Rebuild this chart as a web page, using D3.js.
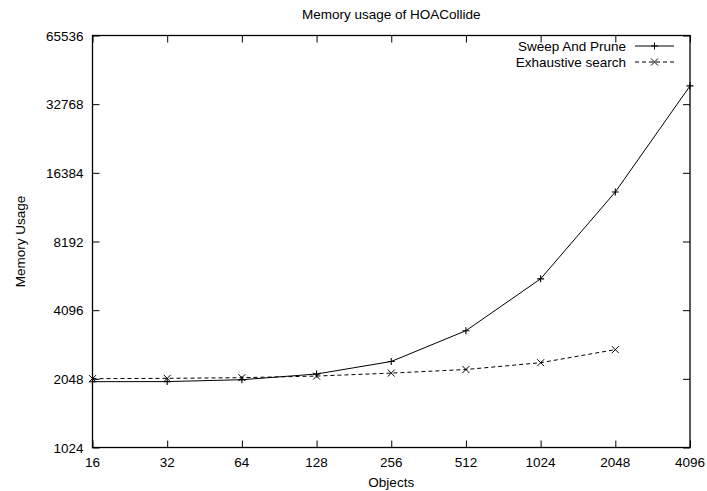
<!DOCTYPE html>
<html>
<head>
<meta charset="utf-8">
<script src="https://cdn.jsdelivr.net/npm/d3@7"></script>
<style>
  body { margin: 0; background: #fff; }
  svg { font-family: "Liberation Sans", Arial, sans-serif; }
</style>
</head>
<body>
<div id="chart"></div>
<script>
const objects = [16, 32, 64, 128, 256, 512, 1024, 2048, 4096];
const sweepAndPrune = [1990, 1992, 2030, 2150, 2440, 3330, 5620, 13500, 39400];
const exhaustive = [2052, 2058, 2072, 2106, 2170, 2250, 2410, 2750];
const yTicks = [1024, 2048, 4096, 8192, 16384, 32768, 65536];

const width = 707;
const height = 491;
const margin = { top: 35.5, right: 17, bottom: 43.5, left: 92.5 };
const fontSize = 13.5;

const svg = d3.select('#chart')
              .append('svg')
              .attr('width', width)
              .attr('height', height);

const xScale = d3.scaleLog().base(2).domain([16, 4096]).range([margin.left, width - margin.right]);
const yScale = d3.scaleLog().base(2).domain([1024, 65536]).range([height - margin.bottom, margin.top]);

const tick = 7;
const fmt = d3.format('d');

// axes, ticks pointing inward like gnuplot
svg.append('g')
   .attr('transform', 'translate(0,' + (height - margin.bottom) + ')')
   .call(d3.axisTop(xScale).tickValues(objects).tickSize(tick).tickFormat(''))
   .call(g => g.select('.domain').remove());
svg.append('g')
   .attr('transform', 'translate(0,' + margin.top + ')')
   .call(d3.axisBottom(xScale).tickValues(objects).tickSize(tick).tickFormat(''))
   .call(g => g.select('.domain').remove());
svg.append('g')
   .attr('transform', 'translate(' + margin.left + ',0)')
   .call(d3.axisRight(yScale).tickValues(yTicks).tickSize(tick).tickFormat(''))
   .call(g => g.select('.domain').remove());
svg.append('g')
   .attr('transform', 'translate(' + (width - margin.right) + ',0)')
   .call(d3.axisLeft(yScale).tickValues(yTicks).tickSize(tick).tickFormat(''))
   .call(g => g.select('.domain').remove());

// tick labels
svg.append('g')
   .selectAll('text')
   .data(objects)
   .enter()
   .append('text')
   .attr('x', d => xScale(d))
   .attr('y', height - margin.bottom + 19)
   .attr('text-anchor', 'middle')
   .attr('font-size', fontSize)
   .text(d => fmt(d));
svg.append('g')
   .selectAll('text')
   .data(yTicks)
   .enter()
   .append('text')
   .attr('x', margin.left - 9)
   .attr('y', d => yScale(d) + 5)
   .attr('text-anchor', 'end')
   .attr('font-size', fontSize)
   .text(d => fmt(d));

// frame
svg.append('rect')
   .attr('x', margin.left)
   .attr('y', margin.top)
   .attr('width', width - margin.left - margin.right)
   .attr('height', height - margin.top - margin.bottom)
   .attr('fill', 'none')
   .attr('stroke', '#000')
   .attr('stroke-width', 1.3);

// titles
svg.append('text')
   .attr('x', (margin.left + width - margin.right) / 2)
   .attr('y', 19)
   .attr('text-anchor', 'middle')
   .attr('font-size', fontSize)
   .text('Memory usage of HOACollide');
svg.append('text')
   .attr('x', (margin.left + width - margin.right) / 2)
   .attr('y', 487)
   .attr('text-anchor', 'middle')
   .attr('font-size', fontSize)
   .text('Objects');
svg.append('text')
   .attr('transform', 'translate(25,' + ((margin.top + height - margin.bottom) / 2) + ') rotate(-90)')
   .attr('text-anchor', 'middle')
   .attr('font-size', fontSize)
   .text('Memory Usage');

const line = d3.line()
               .x(d => xScale(d[0]))
               .y(d => yScale(d[1]));

const sapData = objects.map((o, i) => [o, sweepAndPrune[i]]);
const esData = exhaustive.map((v, i) => [objects[i], v]);

svg.append('path')
   .datum(sapData)
   .attr('d', line)
   .attr('fill', 'none')
   .attr('stroke', '#000')
   .attr('stroke-width', 1);
svg.append('path')
   .datum(esData)
   .attr('d', line)
   .attr('fill', 'none')
   .attr('stroke', '#000')
   .attr('stroke-width', 1)
   .attr('stroke-dasharray', '4,3');

const s = 3.5;
const plus = (x, y) => 'M' + (x - s) + ',' + y + 'H' + (x + s) + 'M' + x + ',' + (y - s) + 'V' + (y + s);
const cross = (x, y) => 'M' + (x - s) + ',' + (y - s) + 'L' + (x + s) + ',' + (y + s) +
                        'M' + (x - s) + ',' + (y + s) + 'L' + (x + s) + ',' + (y - s);

svg.append('g')
   .selectAll('path')
   .data(sapData)
   .enter()
   .append('path')
   .attr('d', d => plus(xScale(d[0]), yScale(d[1])))
   .attr('stroke', '#000')
   .attr('stroke-width', 1.1);
svg.append('g')
   .selectAll('path')
   .data(esData)
   .enter()
   .append('path')
   .attr('d', d => cross(xScale(d[0]), yScale(d[1])))
   .attr('stroke', '#000')
   .attr('stroke-width', 1);

// legend
const legend = svg.append('g');
const legendItems = [
    { label: 'Sweep And Prune', dash: null, mark: plus },
    { label: 'Exhaustive search', dash: '4,3', mark: cross }
];
legendItems.forEach((item, i) => {
    const y = 46 + i * 16;
    legend.append('text')
          .attr('x', 626)
          .attr('y', y + 5)
          .attr('text-anchor', 'end')
          .attr('font-size', fontSize)
          .text(item.label);
    legend.append('line')
          .attr('x1', 635)
          .attr('x2', 674)
          .attr('y1', y)
          .attr('y2', y)
          .attr('stroke', '#000')
          .attr('stroke-width', 1)
          .attr('stroke-dasharray', item.dash);
    legend.append('path')
          .attr('d', item.mark(654.5, y))
          .attr('stroke', '#000')
          .attr('stroke-width', 1);
});
</script>
</body>
</html>
